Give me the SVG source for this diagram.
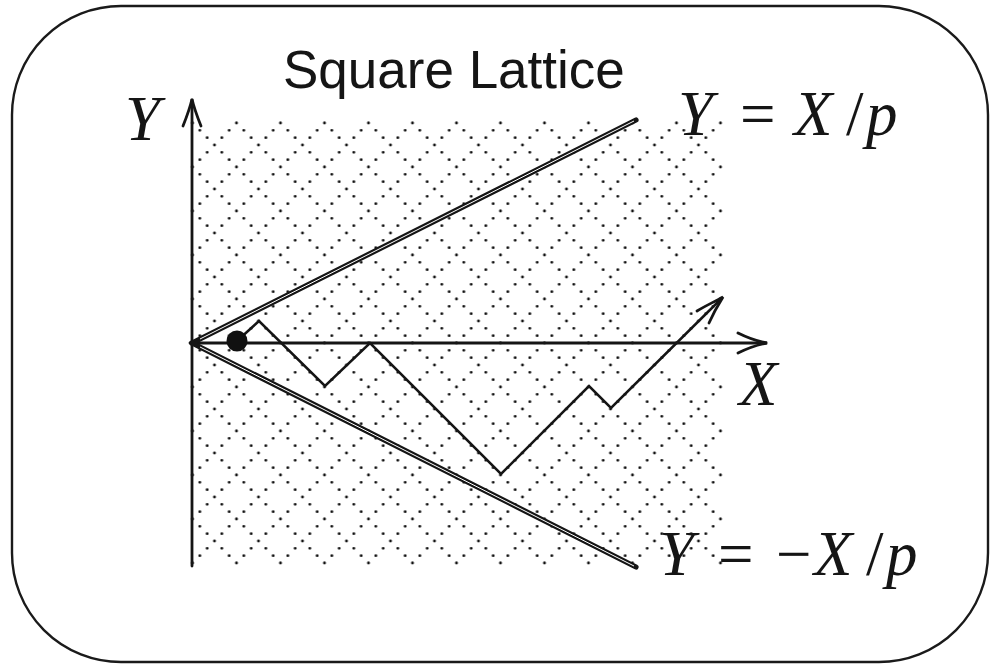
<svg xmlns="http://www.w3.org/2000/svg" width="990" height="666" viewBox="0 0 990 666">
<style>
.frame{fill:none;stroke:#1a1a1a;stroke-width:2.4}
.ax{fill:none;stroke:#151515;stroke-width:2.8;stroke-linecap:round}
.bd{fill:none;stroke:#151515;stroke-width:5.2;stroke-linecap:round}
.bdw{fill:none;stroke:#fff;stroke-width:1}
.walk{fill:none;stroke:#151515;stroke-width:2.5;stroke-linejoin:miter}
.math{font-family:"Liberation Serif","DejaVu Serif",serif;font-size:63px;fill:#151515}
.it{font-style:italic}
.title{font-family:"Liberation Sans",Arial,sans-serif;font-size:53px;fill:#151515}
</style>
<defs>
<pattern id="lat" patternUnits="userSpaceOnUse" x="38.5" y="13" width="44" height="44">
<path d="M0,0 L44,44 M44,0 L0,44" fill="none" stroke="#111" stroke-width="2.9" stroke-linecap="round" stroke-dasharray="0 10.37"/>
</pattern>
</defs>
<rect class="frame" x="12" y="6" width="976" height="656" rx="109" ry="109"/>
<g id="lattice">
<rect x="190" y="119" width="534" height="447" fill="url(#lat)"/>
</g>
<g id="title"><text class="title" x="283" y="88">Square Lattice</text></g>
<g id="connectors">
<line class="ax" x1="192" y1="566" x2="192" y2="100"/>
<path class="ax" d="M183,126 C187,116 190,108 192,99 C194,108 197,116 201,126"/>
<line class="ax" x1="190" y1="343" x2="766" y2="343"/>
<path class="ax" d="M738,333 C748,338 756,341 767,343 C756,345 748,348 738,353"/>
<line class="bd" x1="192" y1="343" x2="636" y2="120"/>
<line class="bdw" x1="200" y1="339" x2="634" y2="121"/>
<line class="bd" x1="192" y1="343" x2="636" y2="567"/>
<line class="bdw" x1="200" y1="347" x2="634" y2="566"/>
<polyline class="walk" points="237,341 259,321 325,386 370,343 501,474 589,386 611,408 722,298"/>
<path class="ax" d="M697,311 C705,306 714,302 723,297 C718,305 713,314 709,323"/>
</g>
<g id="particle"><circle cx="237" cy="341" r="10.5" fill="#111"/></g>
<g id="labels">
<text class="math it" x="125" y="140">Y</text>
<text class="math" y="135"><tspan class="it" x="678">Y</tspan><tspan x="740">=</tspan><tspan class="it" x="794">X</tspan><tspan x="846">/</tspan><tspan class="it" x="866">p</tspan></text>
<text class="math it" x="739" y="405">X</text>
<text class="math" y="575"><tspan class="it" x="659">Y</tspan><tspan x="718">=</tspan><tspan x="776">−</tspan><tspan class="it" x="814">X</tspan><tspan x="866">/</tspan><tspan class="it" x="886">p</tspan></text>
</g>
</svg>
